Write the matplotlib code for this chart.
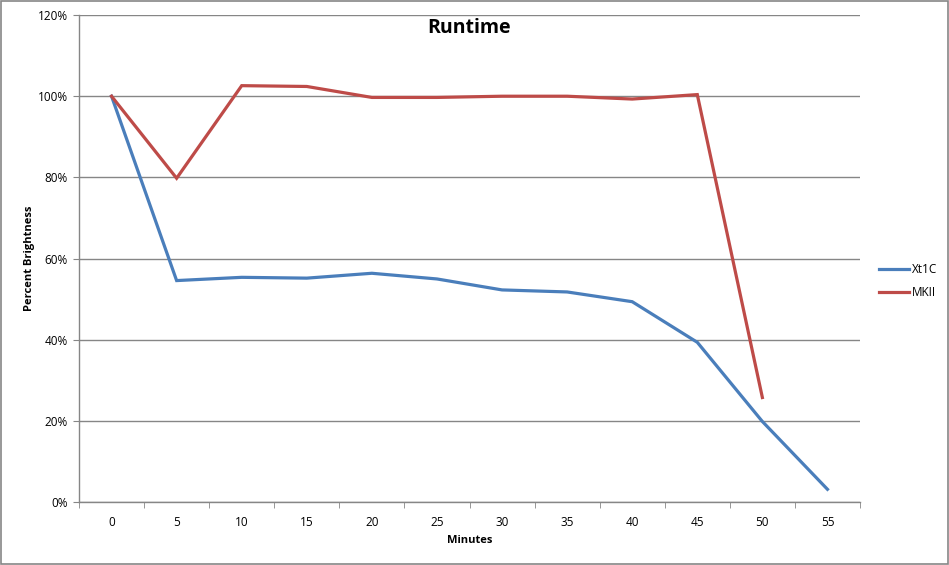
import matplotlib.pyplot as plt
from matplotlib.patches import Rectangle
from matplotlib.ticker import FixedLocator, PercentFormatter

plt.rcParams['font.family'] = ['Open Sans', 'DejaVu Sans']

minutes = ['0', '5', '10', '15', '20', '25', '30', '35', '40', '45', '50', '55']
xt1c = [100, 54.6, 55.4, 55.2, 56.4, 55.0, 52.3, 51.8, 49.4, 39.4, 19.9, 3.2]
mkii = [100, 79.8, 102.6, 102.4, 99.7, 99.7, 100.0, 100.0, 99.3, 100.4, 25.8]

BLUE = '#4A7EBB'
RED = '#BE4B48'
GRID = '#868686'

fig = plt.figure(figsize=(9.49, 5.65), dpi=100)
ax = fig.add_axes([79 / 949, 1 - 502.3 / 565, 781 / 949, (502.3 - 15) / 565])

x = list(range(len(minutes)))
ax.plot(x, xt1c, color=BLUE, lw=2.3, label='Xt1C', solid_joinstyle='miter')
ax.plot(x[:len(mkii)], mkii, color=RED, lw=2.3, label='MKII', solid_joinstyle='miter')

ax.set_xlim(-0.5, len(minutes) - 0.5)
ax.set_ylim(0, 120)
ax.set_yticks(range(0, 121, 20))
ax.yaxis.set_major_formatter(PercentFormatter(decimals=0))
ax.grid(axis='y', color=GRID, lw=1)
ax.set_axisbelow(True)

ax.set_xticks(x)
ax.set_xticklabels(minutes)
ax.xaxis.set_minor_locator(FixedLocator([i - 0.5 for i in range(len(minutes) + 1)]))
ax.tick_params(axis='x', which='major', length=0, pad=10, labelsize=8.5)
ax.tick_params(axis='x', which='minor', length=4, color=GRID, direction='out')
ax.tick_params(axis='y', length=4, color=GRID, labelsize=8.5, pad=4)

for side in ['top', 'right']:
    ax.spines[side].set_visible(False)
for side in ['left', 'bottom']:
    ax.spines[side].set_color(GRID)
    ax.spines[side].set_linewidth(1)

ax.set_xlabel('Minutes', fontsize=8, fontweight='bold', labelpad=4)
ax.set_ylabel('Percent Brightness', fontsize=8, fontweight='bold', labelpad=2)
ax.set_title('Runtime', fontsize=14, fontweight='bold', y=0.945)

fig.legend(loc='center left', bbox_to_anchor=(868 / 949, 1 - 281 / 565),
           frameon=False, fontsize=8.5, handlelength=2.6, handletextpad=0.2,
           labelspacing=0.9)

fig.patches.append(Rectangle((0.0008, 0.001), 0.998, 0.997, transform=fig.transFigure,
                             fill=False, edgecolor=GRID, lw=1.2))

fig.savefig('out.png', dpi=100)
